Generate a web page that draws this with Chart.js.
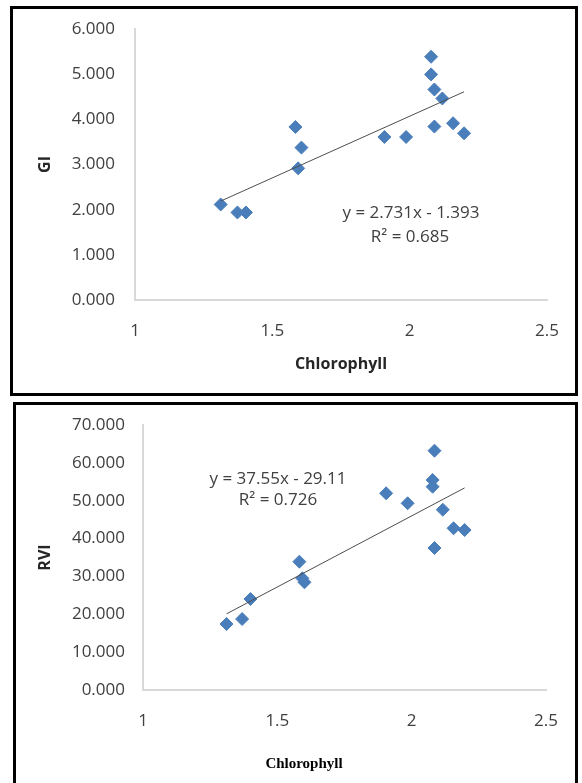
<!DOCTYPE html>
<html>
<head>
<meta charset="utf-8">
<script src="https://cdn.jsdelivr.net/npm/chart.js@4.4.0/dist/chart.umd.min.js"></script>
<style>
  html, body { margin: 0; padding: 0; background: #fff; }
  body { width: 582px; height: 783px; position: relative; overflow: hidden; }
  .frame { position: absolute; box-sizing: border-box; border: 3px solid #000; background: #fff; }
  #frameGI { left: 10px; top: 6px; width: 568px; height: 390px; }
  #frameRVI { left: 13px; top: 402px; width: 565px; height: 392px; }
  canvas { position: absolute; left: 0; top: 0; }
</style>
</head>
<body>
<div class="frame" id="frameGI"><canvas id="chartGI" width="562" height="384"></canvas></div>
<div class="frame" id="frameRVI"><canvas id="chartRVI" width="559" height="386"></canvas></div>
<script>
// Data
const chlGI = [1.312, 1.373, 1.404, 1.584, 1.606, 1.594, 1.908, 1.987, 2.078, 2.078, 2.090, 2.119, 2.090, 2.158, 2.198];
const giValues = [2.115, 1.938, 1.938, 3.831, 3.374, 2.915, 3.609, 3.609, 5.385, 4.995, 4.661, 4.462, 3.840, 3.913, 3.691];

const chlRVI = [1.311, 1.369, 1.400, 1.582, 1.593, 1.601, 1.905, 1.985, 2.085, 2.078, 2.078, 2.116, 2.085, 2.156, 2.197];
const rviValues = [17.43, 18.75, 24.04, 33.89, 29.50, 28.45, 51.96, 49.32, 63.21, 55.47, 53.70, 47.62, 37.51, 42.72, 42.26];

// Trendline coefficients (as printed on the charts)
const giFit = { slope: 2.731, intercept: -1.393, r2: '0.685' };
const rviFit = { slope: 37.55, intercept: -29.11, r2: '0.726' };

// Axis ticks
const xTicks = [1, 1.5, 2, 2.5];
const giTicks = [0, 1, 2, 3, 4, 5, 6];
const rviTicks = [0, 10, 20, 30, 40, 50, 60, 70];

const markerColor = '#4A7EBB';
const tickColor = '#404040';
const axisColor = '#d9d9d9';

// draws free text (regression equations, extra titles)
const freeText = {
    id: 'freeText',
    afterDatasetsDraw(chart, args, opts) {
        const ctx = chart.ctx;
        (opts.items || []).forEach(it => {
            ctx.save();
            ctx.font = it.font;
            ctx.fillStyle = it.color;
            ctx.textAlign = 'center';
            ctx.textBaseline = 'middle';
            ctx.fillText(it.text, it.x, it.y);
            ctx.restore();
        });
    }
};

function trendLine(xs, fit) {
    const lo = Math.min(...xs), hi = Math.max(...xs);
    return [
        { x: lo, y: fit.slope * lo + fit.intercept },
        { x: hi, y: fit.slope * hi + fit.intercept }
    ];
}

function buildChart(id, xs, ys, fit, cfg) {
    const ctx = document.getElementById(id).getContext('2d');
    return new Chart(ctx, {
        type: 'scatter',
        data: {
            datasets: [{
                data: trendLine(xs, fit),
                showLine: true,
                borderColor: '#4d4d4d',
                borderWidth: 1,
                pointRadius: 0,
                order: 0
            }, {
                data: xs.map((x, i) => ({ x: x, y: ys[i] })),
                pointStyle: 'rectRot',
                pointRadius: 6.5,
                backgroundColor: markerColor,
                borderColor: markerColor,
                borderWidth: 1,
                order: 1
            }]
        },
        plugins: [freeText],
        options: {
            responsive: false,
            animation: false,
            devicePixelRatio: 1,
            layout: { padding: { left: 0, top: cfg.padTop, right: cfg.padRight, bottom: 0 } },
            plugins: {
                legend: { display: false },
                tooltip: { enabled: false },
                freeText: { items: cfg.texts }
            },
            scales: {
                x: {
                    type: 'linear',
                    min: 1,
                    max: 2.5,
                    afterBuildTicks: s => { s.ticks = xTicks.map(v => ({ value: v })); },
                    afterFit: s => {
                        s.height = cfg.xHeight;
                        s.paddingLeft = 0;
                        s.paddingRight = 0;
                    },
                    grid: { display: false, drawTicks: false },
                    border: { display: true, color: axisColor, width: 2 },
                    ticks: {
                        color: tickColor,
                        font: { family: 'Open Sans', size: 17 },
                        padding: cfg.xPad,
                        maxRotation: 0,
                        autoSkip: false,
                        callback: v => String(v)
                    },
                    title: cfg.xTitle
                },
                y: {
                    type: 'linear',
                    min: cfg.yTicks[0],
                    max: cfg.yTicks[cfg.yTicks.length - 1],
                    afterBuildTicks: s => { s.ticks = cfg.yTicks.map(v => ({ value: v })); },
                    afterFit: s => {
                        s.width = cfg.yWidth;
                        s.paddingTop = 0;
                        s.paddingBottom = 0;
                    },
                    grid: { display: false, drawTicks: false },
                    border: { display: true, color: axisColor, width: 2 },
                    ticks: {
                        color: tickColor,
                        font: { family: 'Open Sans', size: 17 },
                        padding: cfg.yPad,
                        autoSkip: false,
                        callback: v => Number(v).toFixed(3)
                    },
                    title: {
                        display: true,
                        text: cfg.yTitle,
                        color: '#262626',
                        font: { family: 'Open Sans', size: 16, weight: 'bold' },
                        padding: { top: cfg.yTitlePad, bottom: 0 }
                    }
                }
            }
        }
    });
}

const eqFont = '17px "Open Sans"';

buildChart('chartGI', chlGI, giValues, giFit, {
    yTicks: giTicks,
    yTitle: 'GI',
    yTitlePad: 23,
    yWidth: 122,
    yPad: 20,
    xHeight: 93,
    xPad: 21,
    padTop: 20,
    padRight: 28,
    xTitle: {
        display: true,
        text: 'Chlorophyll',
        color: '#262626',
        font: { family: 'Open Sans', size: 16, weight: 'bold' },
        padding: { top: 0, bottom: 19 }
    },
    texts: [
        { text: 'y = 2.731x - 1.393', x: 398, y: 204, font: eqFont, color: tickColor },
        { text: 'R\u00b2 = ' + giFit.r2, x: 397, y: 228, font: eqFont, color: tickColor }
    ]
});

buildChart('chartRVI', chlRVI, rviValues, rviFit, {
    yTicks: rviTicks,
    yTitle: 'RVI',
    yTitlePad: 20,
    yWidth: 127,
    yPad: 18,
    xHeight: 101,
    xPad: 21,
    padTop: 20,
    padRight: 29,
    xTitle: { display: false },
    texts: [
        { text: 'y = 37.55x - 29.11', x: 262, y: 74, font: eqFont, color: tickColor },
        { text: 'R\u00b2 = ' + rviFit.r2, x: 262, y: 95, font: eqFont, color: tickColor },
        { text: 'Chlorophyll', x: 288, y: 359, font: 'bold 15px "Liberation Serif"', color: '#000' }
    ]
});
</script>
</body>
</html>
